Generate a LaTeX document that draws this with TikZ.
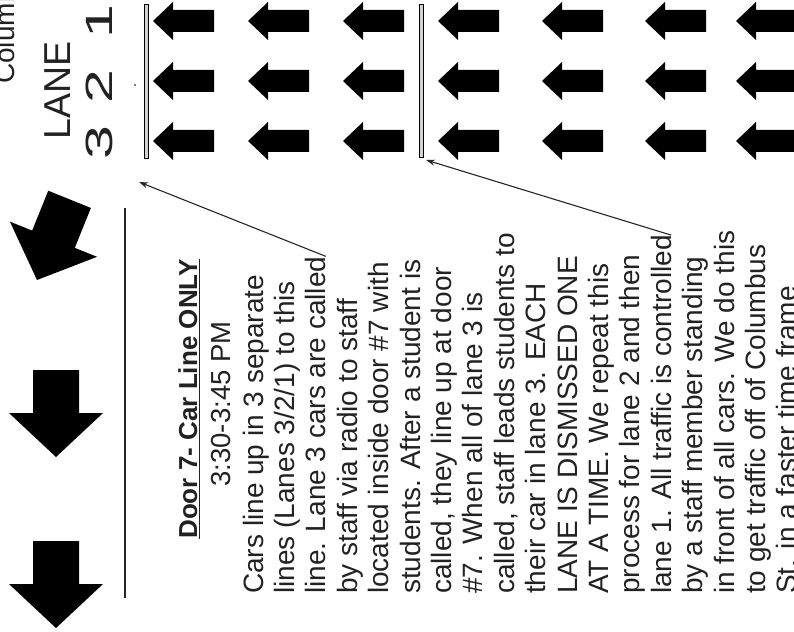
\documentclass[tikz,border=0pt]{standalone}
\usepackage{fontspec}
\setmainfont{Liberation Sans}
\usetikzlibrary{arrows.meta,calc}
\definecolor{txtgray}{HTML}{222222}
\begin{document}
\begin{tikzpicture}[x=1pt,y=-1pt,
  larrow/.pic={\fill[black] (0,0) -- (20,-19) -- (20,-11) -- (61,-11) -- (61,11) -- (20,11) -- (20,19) -- cycle;},
  darrow/.pic={\fill[black] (0,0) -- (-47,-44) -- (-23,-44) -- (-23,-87) -- (23,-87) -- (23,-44) -- (47,-44) -- cycle;},
  bodytxt/.style={rotate=90, anchor=base west, inner sep=0pt, font=\fontsize{28}{31}\selectfont, text=txtgray},
  titletxt/.style={rotate=90, anchor=base, inner sep=0pt, font=\fontsize{26}{30}\selectfont\bfseries, text=txtgray},
  timetxt/.style={rotate=90, anchor=base, inner sep=0pt, font=\fontsize{27.5}{30}\selectfont, text=txtgray},
  lanetxt/.style={rotate=90, anchor=base west, inner sep=0pt, font=\fontsize{37.5}{40}\selectfont, text=txtgray},
  digit/.style={rotate=90, xscale=1.6, anchor=base, inner sep=0pt, font=\fontsize{38}{40}\selectfont, text=txtgray},
  barrier/.style={draw=black, fill=gray!35, line width=0.8pt, minimum width=4.5pt, inner sep=0pt},
  callout/.style={draw=black!85, line width=1.1pt, -{Stealth[length=9pt,width=6pt]}},
]
\useasboundingbox (0,0) rectangle (794,631);
\fill[white] (0,0) rectangle (794,631);

% street label (cut off)
\node[bodytxt] (street) at (14,84) {Columbus St.};

% lane labels
\node[lanetxt] (lane) at (70,140) {LANE};
\node[digit] (d3) at (112,143) {3};
\node[digit] (d2) at (112,87) {2};
\node[digit] (d1) at (112,22) {1};
\fill[black] (135,85) circle (0.9);

% barriers
\node[barrier, minimum height=154pt] (bar1) at (146.5,81) {};
\node[barrier, minimum height=153pt] (bar2) at (421.5,80.5) {};

% car arrows
\foreach \cx in {153,248,343,438,542,645,736}
  \foreach \cy in {21,81,141}
    \pic at (\cx,\cy) {larrow};

% walking arrows
\pic[rotate=-22] at (37,280) {darrow};
\pic at (56,457) {darrow};
\pic at (56,628) {darrow};

% separator line
\draw[line width=1.4pt, black!85] (125,208) -- (125,598);

% text
\node[titletxt] (title) at (197,399) {Door 7- Car Line ONLY};
\draw[line width=1.5pt, txtgray] ($(title.base west)+(2.5,0)$) -- ($(title.base east)+(2.5,0)$);
\node[timetxt] (time) at (230,404) {3:30-3:45 PM};

\foreach \t [count=\i] in {
  {Cars line up in 3 separate},
  {lines (Lanes 3/2/1) to this},
  {line. Lane 3 cars are called},
  {by staff via radio to staff},
  {located inside door \#7 with},
  {students. After a student is},
  {called, they line up at door},
  {\#7. When all of lane 3 is},
  {called, staff leads students to},
  {their car in lane 3. EACH},
  {LANE IS DISMISSED ONE},
  {AT A TIME. We repeat this},
  {process for lane 2 and then},
  {lane 1. All traffic is controlled},
  {by a staff member standing},
  {in front of all cars. We do this},
  {to get traffic off of Columbus},
  {St. in a faster time frame}}
  {\node[bodytxt] (b\i) at ({263+31.4*(\i-1)},594) {\t};}

% callouts
\coordinate (c1) at (139,182);
\coordinate (c2) at (426,160);
\draw[callout] (b3.base east) -- (c1);
\draw[callout] (b14.base east) -- (c2);
\end{tikzpicture}
\end{document}
